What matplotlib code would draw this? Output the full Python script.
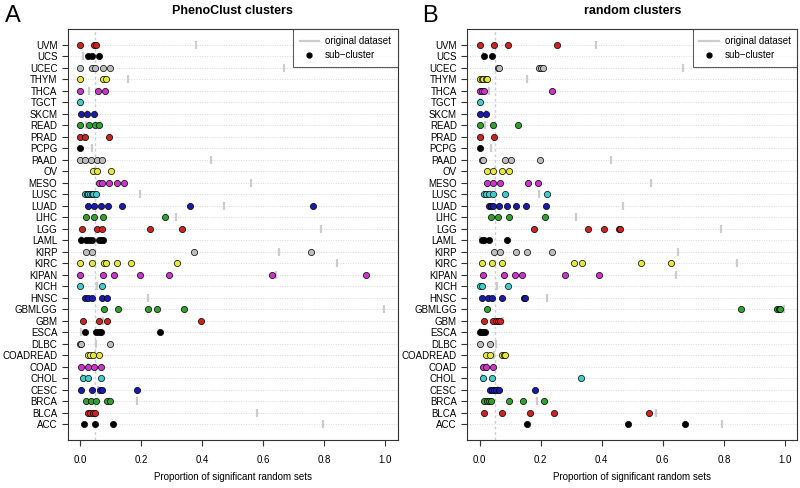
import matplotlib
matplotlib.use("Agg")
import matplotlib.pyplot as plt
from matplotlib.lines import Line2D

plt.rcParams['font.family'] = ['Liberation Sans', 'DejaVu Sans']

categories = ["UVM", "UCS", "UCEC", "THYM", "THCA", "TGCT", "SKCM", "READ", "PRAD", "PCPG",
              "PAAD", "OV", "MESO", "LUSC", "LUAD", "LIHC", "LGG", "LAML", "KIRP", "KIRC",
              "KIPAN", "KICH", "HNSC", "GBMLGG", "GBM", "ESCA", "DLBC", "COADREAD", "COAD",
              "CHOL", "CESC", "BRCA", "BLCA", "ACC"]

original = [0.380, 0.010, 0.667, 0.156, 0.030, 0.000, 0.022, 0.019, 0.013, 0.039,
            0.429, 0.050, 0.561, 0.195, 0.471, 0.315, 0.789, 0.002, 0.650, 0.842,
            0.643, 0.056, 0.222, 0.995, 0.076, 0.002, 0.054, 0.049, 0.025, 0.007,
            0.059, 0.187, 0.579, 0.795]

pheno = [
    [0.0, 0.047, 0.052],
    [0.027, 0.040, 0.064],
    [0.0, 0.039, 0.050, 0.075, 0.098],
    [0.0, 0.077, 0.084],
    [0.0, 0.060, 0.082],
    [0.0],
    [0.002, 0.022, 0.046],
    [0.0, 0.029, 0.049, 0.063],
    [0.0, 0.017, 0.094],
    [0.0],
    [0.0, 0.017, 0.037, 0.057, 0.072],
    [0.044, 0.057, 0.103],
    [0.063, 0.072, 0.094, 0.121, 0.143],
    [0.016, 0.022, 0.028, 0.033, 0.038, 0.044, 0.054],
    [0.027, 0.045, 0.068, 0.093, 0.138, 0.361, 0.763],
    [0.019, 0.046, 0.076, 0.279],
    [0.008, 0.056, 0.071, 0.229, 0.334],
    [0.005, 0.020, 0.030, 0.038, 0.061, 0.068, 0.074],
    [0.020, 0.041, 0.374, 0.757],
    [0.0, 0.039, 0.078, 0.085, 0.121, 0.167, 0.318],
    [0.0, 0.076, 0.112, 0.195, 0.292, 0.630, 0.937],
    [0.0, 0.073],
    [0.017, 0.028, 0.041, 0.071, 0.090],
    [0.080, 0.126, 0.222, 0.251, 0.340],
    [0.009, 0.061, 0.088, 0.397],
    [0.017, 0.052, 0.061, 0.069, 0.263],
    [0.0, 0.004, 0.098],
    [0.026, 0.033, 0.044, 0.063],
    [0.002, 0.025, 0.045, 0.070],
    [0.009, 0.025, 0.068],
    [0.003, 0.041, 0.066, 0.072, 0.186],
    [0.020, 0.037, 0.053, 0.090, 0.098],
    [0.027, 0.033, 0.044, 0.049],
    [0.012, 0.049, 0.108],
]

random_cl = [
    [0.0, 0.046, 0.094, 0.252],
    [0.015, 0.040],
    [0.059, 0.064, 0.196, 0.202, 0.208],
    [0.0, 0.007, 0.013, 0.020, 0.026],
    [0.0, 0.008, 0.015, 0.236],
    [0.0],
    [0.002, 0.022],
    [0.0, 0.043, 0.125],
    [0.0, 0.047],
    [0.0],
    [0.009, 0.013, 0.084, 0.104, 0.199],
    [0.023, 0.044, 0.072, 0.098],
    [0.023, 0.043, 0.067, 0.158, 0.193],
    [0.015, 0.022, 0.030, 0.043, 0.085, 0.221],
    [0.032, 0.037, 0.044, 0.063, 0.091, 0.121, 0.152, 0.217],
    [0.038, 0.059, 0.097, 0.213],
    [0.177, 0.354, 0.409, 0.455, 0.459],
    [0.009, 0.015, 0.030, 0.091],
    [0.049, 0.068, 0.121, 0.157, 0.237],
    [0.008, 0.040, 0.074, 0.309, 0.336, 0.528, 0.628],
    [0.011, 0.081, 0.116, 0.140, 0.279, 0.391],
    [0.0, 0.009, 0.092],
    [0.007, 0.028, 0.042, 0.072, 0.144, 0.149],
    [0.026, 0.857, 0.975, 0.980, 0.985],
    [0.016, 0.045, 0.055, 0.060, 0.066],
    [0.0, 0.004, 0.009, 0.013, 0.017],
    [0.0, 0.033],
    [0.020, 0.033, 0.074, 0.080, 0.085],
    [0.013, 0.020, 0.045],
    [0.011, 0.042, 0.332],
    [0.035, 0.042, 0.048, 0.055, 0.063, 0.183],
    [0.016, 0.024, 0.032, 0.038, 0.098, 0.141, 0.210],
    [0.014, 0.075, 0.164, 0.245, 0.554],
    [0.154, 0.485, 0.674],
]

palette = ['#000000', '#CC2222', '#30A030', '#1A1AAA', '#40CCCC', '#CC33CC', '#E6E640', '#BEBEBE']
threshold = 0.05
xticks = [0.0, 0.2, 0.4, 0.6, 0.8, 1.0]

fig = plt.figure(figsize=(8.0, 4.88), dpi=100)
ax1 = fig.add_axes([67.7 / 800, 48 / 488, 330 / 800, 410.7 / 488])
ax2 = fig.add_axes([467.3 / 800, 48 / 488, 330 / 800, 410.7 / 488])

n = len(categories)


def draw(ax, data, title, letter, letter_x):
    ypos = [n - 1 - i for i in range(n)]
    for y in ypos:
        ax.axhline(y, color='#d9d9d9', lw=0.7, ls=(0, (1, 1.5)), zorder=0)
    ax.axvline(threshold, color='#c8d0d8', lw=1.0, ls=(0, (2, 2)), zorder=1)
    for i, cat in enumerate(categories):
        y = ypos[i]
        ax.plot([original[i], original[i]], [y - 0.35, y + 0.35], color='#cccccc', lw=1.6,
                solid_capstyle='butt', zorder=2)
    for i, cat in enumerate(categories):
        y = ypos[i]
        col = palette[y % 8]
        vals = data[i]
        ax.scatter(vals, [y] * len(vals), s=20, c=col, edgecolors='black', linewidths=0.5, zorder=3)
    ax.set_xlim(-0.04, 1.04)
    ax.set_ylim(-1.36, n - 1 + 1.36)
    ax.set_yticks(ypos)
    ax.set_yticklabels(categories, fontsize=7)
    ax.set_xticks(xticks)
    ax.set_xticklabels([f"{t:.1f}" for t in xticks], fontsize=7)
    ax.tick_params(axis='both', length=4.5, width=0.8, color='#333333')
    ax.tick_params(axis='x', pad=6)
    ax.tick_params(axis='y', pad=3)
    for sp in ax.spines.values():
        sp.set_color('#333333')
        sp.set_linewidth(0.8)
    ax.set_xlabel("Proportion of significant random sets", fontsize=7, labelpad=5)
    ax.set_title(title, fontsize=9, fontweight='bold', pad=11)
    fig.text(letter_x, 1 - 22 / 488, letter, fontsize=17, ha='left', va='baseline')
    handles = [Line2D([0], [0], color='#cccccc', lw=1.6),
               Line2D([0], [0], color='black', marker='o', ls='none', markersize=3.5)]
    leg = ax.legend(handles, ["original dataset", "sub\u2212cluster"], loc='upper right',
                    fontsize=7, frameon=True, fancybox=False, borderaxespad=0,
                    handlelength=2.0, handletextpad=0.6, borderpad=0.7, labelspacing=0.4)
    leg.get_frame().set_edgecolor('#333333')
    leg.get_frame().set_linewidth(0.8)


draw(ax1, pheno, "PhenoClust clusters", "A", 5 / 800)
draw(ax2, random_cl, "random clusters", "B", 422 / 800)

fig.savefig("out.png", dpi=100)
